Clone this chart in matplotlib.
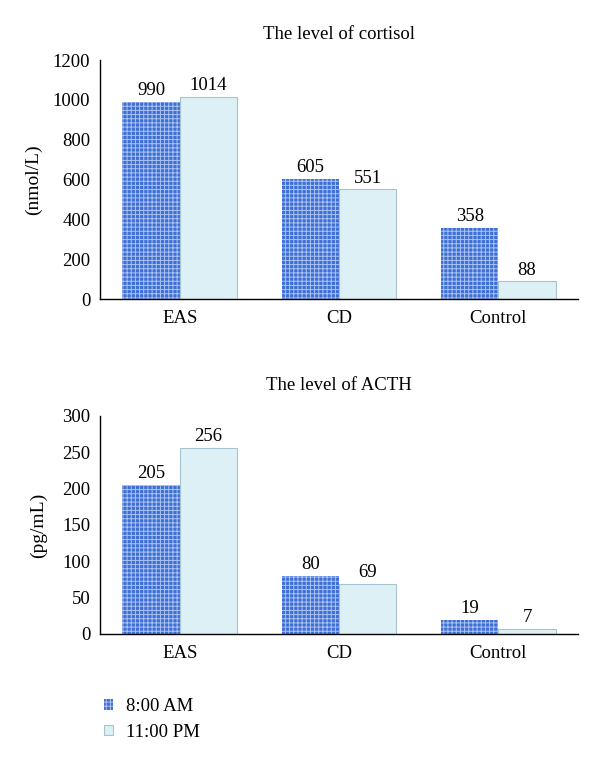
import numpy as np
import matplotlib
matplotlib.use("Agg")
import matplotlib.pyplot as plt

plt.rcParams['font.family'] = ['Liberation Serif', 'DejaVu Serif']
plt.rcParams['hatch.linewidth'] = 0.7

# data
groups = ["EAS", "CD", "Control"]
series = ["8:00 AM", "11:00 PM"]
cortisol_am = [990, 605, 358]
cortisol_pm = [1014, 551, 88]
acth_am = [205, 80, 19]
acth_pm = [256, 69, 7]

blue_face = '#3f6fd4'
blue_hatch = '#a9c3f2'
light_face = '#dcf0f6'
light_edge = '#a7c3cf'

fig = plt.figure(figsize=(6.0, 7.63), dpi=100)
ax1 = fig.add_axes([0.1667, 0.6081, 0.7967, 0.3132])
ax2 = fig.add_axes([0.1667, 0.1691, 0.7967, 0.2857])


def draw(ax, am, pm, title, ylabel, ymax, step, label_x, title_pad):
    x = np.arange(len(groups))
    w = 0.36
    b1 = ax.bar(x - w / 2, am, w, color=blue_face, edgecolor=blue_hatch,
                linewidth=0, hatch='++++', label=series[0])
    b2 = ax.bar(x + w / 2, pm, w, color=light_face, edgecolor=light_edge,
                linewidth=0.8, label=series[1])
    ax.bar_label(b1, padding=2, fontsize=13.5)
    ax.bar_label(b2, padding=2, fontsize=13.5)
    ax.set_xlim(-0.5, 2.5)
    ax.set_ylim(0, ymax)
    ax.set_yticks(np.arange(0, ymax + 1, step))
    ax.set_xticks(x)
    ax.set_xticklabels(groups)
    ax.tick_params(axis='both', length=0, labelsize=13.5)
    ax.tick_params(axis='x', pad=8)
    ax.tick_params(axis='y', pad=7)
    for s in ['top', 'right']:
        ax.spines[s].set_visible(False)
    ax.spines['left'].set_linewidth(1.0)
    ax.spines['bottom'].set_linewidth(1.0)
    ax.set_title(title, fontsize=13.5, pad=title_pad)
    ax.set_ylabel(ylabel, fontsize=14)
    ax.yaxis.set_label_coords(label_x, 0.5)
    return b1, b2


h1, h2 = draw(ax1, cortisol_am, cortisol_pm, "The level of cortisol", "(nmol/L)",
              1200, 200, -0.122, 15.5)
draw(ax2, acth_am, acth_pm, "The level of ACTH", "(pg/mL)", 300, 50, -0.111, 19)

fig.legend(handles=[h1, h2], loc='upper left', bbox_to_anchor=(0.145, 0.107),
           frameon=False, fontsize=13.5, handlelength=0.5, handleheight=0.5,
           handletextpad=0.7, labelspacing=0.45)

fig.savefig("out.png", dpi=100)
